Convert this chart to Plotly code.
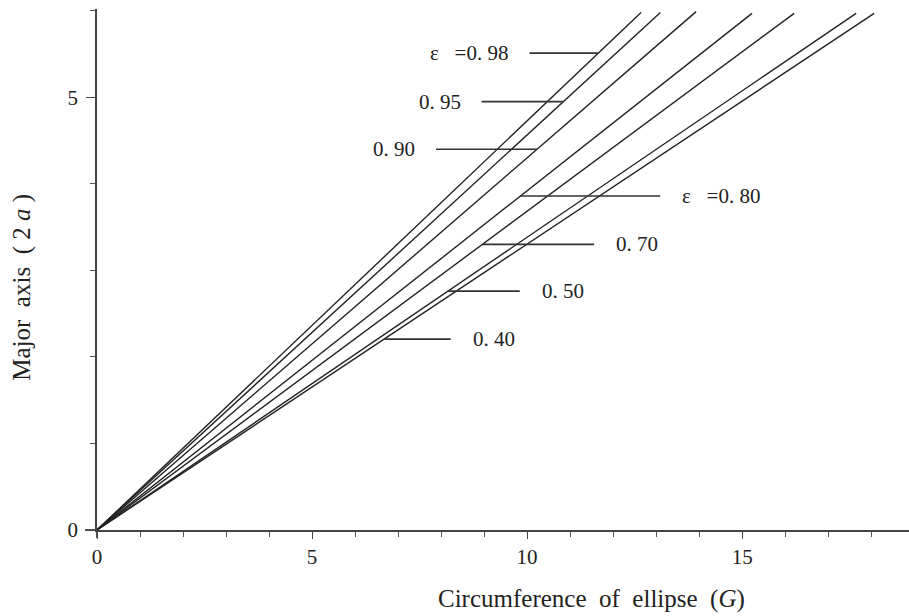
import plotly.graph_objects as go

# eccentricity lines: each runs from the origin to its end point (G, 2a)
label_text = ["ε   =0. 98", "0. 95", "0. 90", "ε   =0. 80", "0. 70", "0. 50", "0. 40"]
end_G = [12.65, 13.10, 13.93, 15.23, 16.21, 17.65, 18.07]
end_2a = [5.98, 5.98, 5.99, 5.97, 5.97, 5.97, 5.97]
# height (2a) at which each label's leader meets its line, and leader length (G units)
label_2a = [5.51, 4.95, 4.40, 3.86, 3.30, 2.76, 2.205]
leader_len = [1.6, 1.9, 2.35, 3.25, 2.6, 1.67, 1.55]
label_side = ["left", "left", "left", "right", "right", "right", "right"]

x_ticks = [0, 5, 10, 15]
y_ticks = [0, 5]

LINE = "#222222"
FONT = "Liberation Serif"

fig = go.Figure()

for g, a in zip(end_G, end_2a):
    fig.add_trace(go.Scatter(x=[0, g], y=[0, a], mode="lines",
                             line=dict(color=LINE, width=1.4),
                             hoverinfo="skip", showlegend=False))

annotations = []
for txt, g, a, ly, ln, side in zip(label_text, end_G, end_2a, label_2a, leader_len, label_side):
    xl = ly * g / a  # where the leader meets its line
    if side == "left":
        x0, x1 = xl - ln, xl
        annotations.append(dict(x=x0, y=ly, xref="x", yref="y", text=txt,
                                showarrow=False, xanchor="right", yanchor="middle",
                                xshift=-19, font=dict(family=FONT, size=21, color="#222")))
    else:
        x0, x1 = xl, xl + ln
        annotations.append(dict(x=x1, y=ly, xref="x", yref="y", text=txt,
                                showarrow=False, xanchor="left", yanchor="middle",
                                xshift=20, font=dict(family=FONT, size=21, color="#222")))
    fig.add_trace(go.Scatter(x=[x0, x1], y=[ly, ly], mode="lines",
                             line=dict(color="#333333", width=1.6),
                             hoverinfo="skip", showlegend=False))

annotations.append(dict(x=0, y=0.465, xref="paper", yref="paper",
                        text="Major  axis  ( 2 <i>a</i> )", textangle=-90,
                        showarrow=False, xanchor="center", yanchor="middle",
                        xshift=-75, font=dict(family=FONT, size=25, color="#222")))
annotations.append(dict(x=11.5, y=0, xref="x", yref="paper",
                        text="Circumference  of  ellipse  (<i>G</i>)",
                        showarrow=False, xanchor="center", yanchor="middle",
                        yshift=-69, font=dict(family=FONT, size=25, color="#222")))

shapes = [
    # small overhangs of the axis lines past the origin
    dict(type="line", xref="paper", yref="paper", x0=0, x1=-12 / 812, y0=0, y1=0,
         line=dict(color="#444", width=1.8)),
    dict(type="line", xref="paper", yref="paper", x0=0, x1=0, y0=0, y1=-8 / 521,
         line=dict(color="#444", width=1.8)),
]

fig.update_layout(
    width=909, height=616,
    margin=dict(l=97, r=0, t=9, b=86),
    paper_bgcolor="white", plot_bgcolor="white",
    showlegend=False,
    annotations=annotations,
    shapes=shapes,
    xaxis=dict(range=[0, 18.88], showgrid=False, zeroline=False,
               showline=True, linecolor="#444", linewidth=1.8,
               tickmode="array", tickvals=x_ticks, ticktext=[str(v) for v in x_ticks],
               ticks="outside", ticklen=7, tickcolor="#444", tickwidth=1.2,
               minor=dict(dtick=1, tick0=0, ticks="outside", ticklen=5,
                          tickcolor="#555", tickwidth=1),
               tickfont=dict(family=FONT, size=21, color="#222")),
    yaxis=dict(range=[0, 6.02], showgrid=False, zeroline=False,
               showline=True, linecolor="#444", linewidth=1.8,
               tickmode="array", tickvals=y_ticks, ticktext=[str(v) for v in y_ticks],
               ticks="outside", ticklen=9, tickcolor="#444", tickwidth=1.2,
               ticklabelstandoff=4,
               minor=dict(dtick=1, tick0=0, ticks="outside", ticklen=5,
                          tickcolor="#555", tickwidth=1),
               tickfont=dict(family=FONT, size=21, color="#222")),
)

fig.write_html("out.html")
